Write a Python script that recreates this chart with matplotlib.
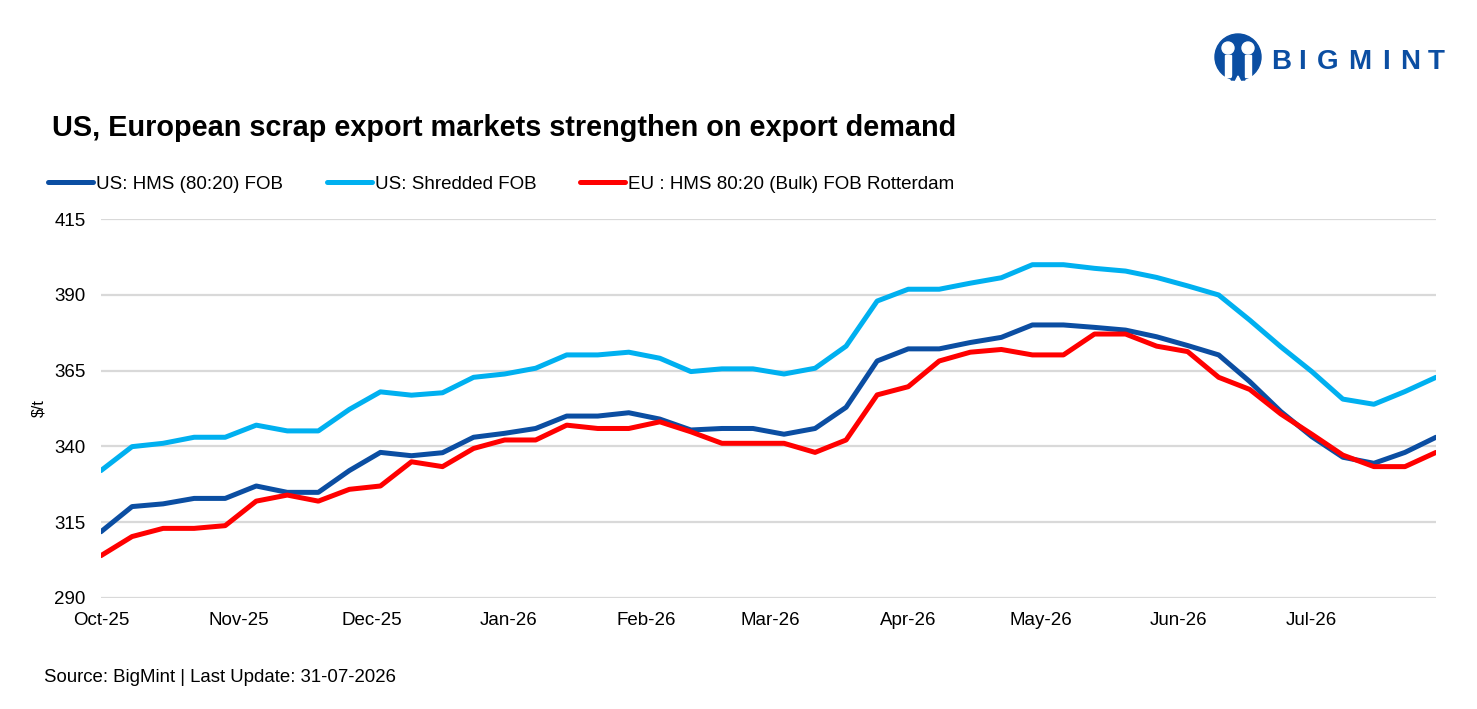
import matplotlib
matplotlib.use("Agg")
import matplotlib.pyplot as plt
import matplotlib.dates as mdates
from matplotlib.patches import Circle, Rectangle, Polygon
import pandas as pd

plt.rcParams['font.family'] = ['Liberation Sans', 'DejaVu Sans']

W, H = 1477, 709

# weekly assessments, Fridays from 03-10-2025 to 31-07-2026
dates = pd.date_range("2025-10-03", "2026-07-31", freq="7D")

us_hms = [311.8, 320.1, 321.0, 322.8, 322.8, 326.9, 324.8, 324.8, 332.0, 338.0,
          336.9, 337.9, 343.0, 344.3, 345.9, 350.0, 350.0, 351.1, 349.0, 345.4,
          345.9, 345.9, 344.0, 345.9, 352.9, 368.2, 372.2, 372.2, 374.3, 376.0,
          380.1, 380.1, 379.3, 378.4, 376.2, 373.3, 370.2, 361.4, 351.5, 343.2,
          336.4, 334.4, 338.0, 343.0]

us_shredded = [332.0, 339.9, 341.0, 343.0, 343.0, 347.0, 345.1, 345.1, 352.2, 358.0,
               356.9, 357.7, 362.8, 363.9, 365.8, 370.2, 370.2, 371.1, 369.1, 364.7,
               365.6, 365.6, 363.9, 365.8, 373.1, 388.0, 391.9, 391.9, 393.9, 395.7,
               400.0, 400.0, 398.8, 397.9, 395.8, 393.0, 390.0, 381.7, 372.9, 364.7,
               355.6, 353.9, 358.1, 362.8]

eu_hms = [303.9, 310.2, 312.9, 312.9, 313.8, 321.9, 323.9, 321.9, 325.8, 326.9,
          334.9, 333.3, 339.3, 342.1, 342.1, 347.0, 345.9, 345.9, 348.1, 344.8,
          341.0, 341.0, 341.0, 338.0, 342.1, 357.0, 359.7, 368.2, 371.1, 372.0,
          370.2, 370.2, 377.1, 377.1, 373.1, 371.3, 362.8, 358.8, 350.7, 344.0,
          337.1, 333.3, 333.3, 338.0]

series = [
    ("US: HMS (80:20) FOB", us_hms, "#0b4ea2"),
    ("US: Shredded FOB", us_shredded, "#00b0f0"),
    ("EU : HMS 80:20 (Bulk) FOB Rotterdam", eu_hms, "#ff0000"),
]

yticks = [290, 315, 340, 365, 390, 415]

fig = plt.figure(figsize=(W / 100, H / 100), dpi=100)
ax = fig.add_axes([101 / W, 1 - 597.7 / H, (1436 - 101) / W, (597.7 - 219.3) / H])

for label, vals, color in series:
    ax.plot(dates, vals, color=color, lw=3.6, label=label,
            solid_joinstyle="round", solid_capstyle="round")

ax.set_ylim(290, 415)
ax.set_yticks(yticks)
ax.set_xlim(dates[0], dates[-1])
ax.xaxis.set_major_locator(mdates.MonthLocator(bymonthday=3))
ax.xaxis.set_major_formatter(mdates.DateFormatter("%b-%y"))
ax.grid(axis="y", color="#d9d9d9", lw=1.6)
ax.set_axisbelow(True)
for s in ax.spines.values():
    s.set_visible(False)
ax.tick_params(axis="both", length=0, labelsize=13.5, colors="#000000")
ax.tick_params(axis="y", pad=11)
ax.tick_params(axis="x", pad=10)
ax.set_ylabel("$/t", fontsize=11.5, labelpad=6)

fig.legend(loc="center left", bbox_to_anchor=(48 / W, 1 - 184 / H), ncol=3,
           frameon=False, fontsize=13.5, handlelength=2.4, handletextpad=0.18,
           columnspacing=2.3, borderaxespad=0, borderpad=0)

fig.text(52 / W, 1 - 128 / H, "US, European scrap export markets strengthen on export demand",
         fontsize=20.8, fontweight="bold", va="center")
fig.text(44 / W, 1 - 678 / H, "Source: BigMint | Last Update: 31-07-2026",
         fontsize=13.4, va="center")

# logo: icon drawn in pixel units on its own axes
logo_blue = "#0b4ea2"
lax = fig.add_axes([1213 / W, 1 - 82 / H, 50 / W, 50 / H])
lax.set_xlim(0, 50)
lax.set_ylim(0, 50)
lax.set_aspect("equal")
lax.axis("off")
lax.add_patch(Circle((25, 25), 23, color=logo_blue))
for hx in (15, 35):
    lax.add_patch(Circle((hx, 34), 6, color="white"))
    lax.add_patch(Rectangle((hx - 3, 5), 6, 22, color="white"))
lax.add_patch(Polygon([(18, 2), (25, 14), (32, 2)], closed=True, color=logo_blue))
lax.add_patch(Polygon([(22, 0), (25, 6), (28, 0)], closed=True, color="white"))

letters = "BIGMINT"
letter_cx = [1281, 1302, 1328, 1360, 1386, 1410, 1436]
for ch, cx in zip(letters, letter_cx):
    fig.text(cx / W, 1 - 62 / H, ch, fontsize=20, fontweight="bold",
             color=logo_blue, va="center", ha="center")

fig.savefig("out.png", dpi=100)
